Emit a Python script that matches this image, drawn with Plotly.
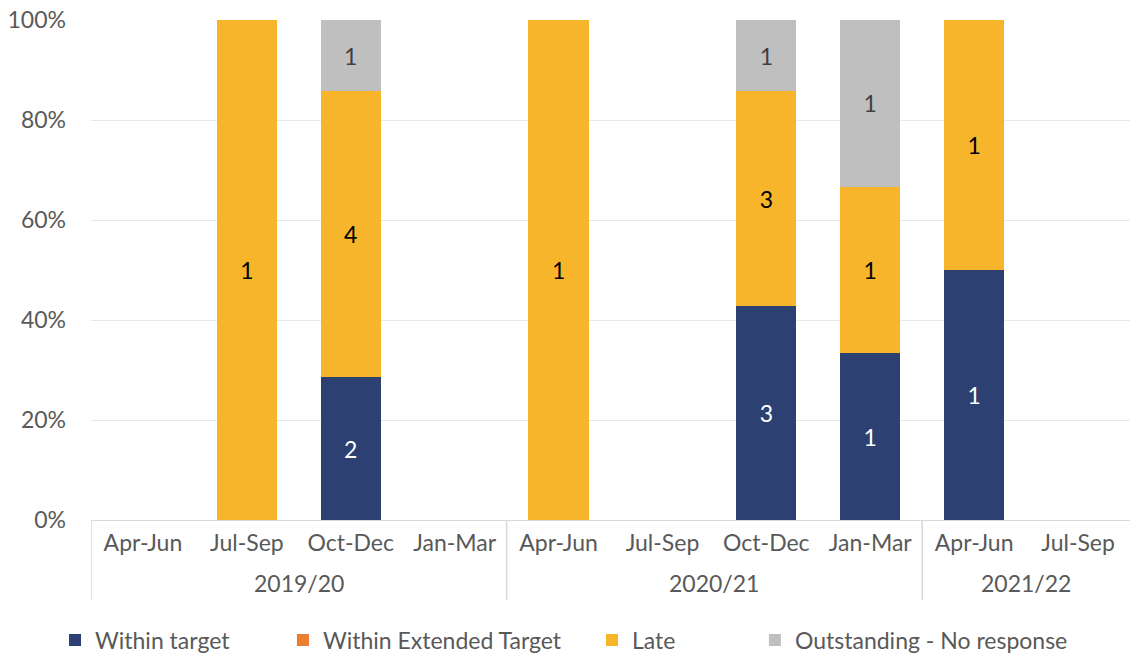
import plotly.graph_objects as go

years = ["2019/20"] * 4 + ["2020/21"] * 4 + ["2021/22"] * 2
quarters = ["Apr-Jun", "Jul-Sep", "Oct-Dec", "Jan-Mar",
            "Apr-Jun", "Jul-Sep", "Oct-Dec", "Jan-Mar",
            "Apr-Jun", "Jul-Sep"]

within_target = [0, 0, 2, 0, 0, 0, 3, 1, 1, 0]
within_extended = [0, 0, 0, 0, 0, 0, 0, 0, 0, 0]
late = [0, 1, 4, 0, 1, 0, 3, 1, 1, 0]
outstanding = [0, 0, 1, 0, 0, 0, 1, 1, 0, 0]

series = [
    ("Within target", within_target, "#2C4172", "white"),
    ("Within Extended Target", within_extended, "#ED7D31", "white"),
    ("Late", late, "#F7B52B", "black"),
    ("Outstanding - No response", outstanding, "#BFBFBF", "#404040"),
]

FONT = "Lato"
GREY = "#595959"
LINE = "#D9D9D9"
W, H = 1130, 654
xpos = list(range(len(quarters)))

# legend x positions (container fraction) for each entry
legend_x = [0.0487, 0.2504, 0.5239, 0.6681]
legend_ids = ["legend", "legend2", "legend3", "legend4"]

fig = go.Figure()
for (name, vals, color, tcolor), lid in zip(series, legend_ids):
    fig.add_trace(go.Bar(
        name=name,
        x=xpos,
        y=vals,
        marker=dict(color=color, line=dict(width=0)),
        text=[str(v) if v else "" for v in vals],
        textposition="inside",
        insidetextanchor="middle",
        textangle=0,
        textfont=dict(color=tcolor, size=23, family=FONT),
        hoverinfo="skip",
        legend=lid,
    ))

legend_common = dict(
    orientation="h",
    xref="container", yref="container",
    y=1 - 640 / H, yanchor="middle",
    xanchor="left",
    font=dict(size=23, color=GREY, family=FONT),
    itemwidth=30,
    bgcolor="rgba(0,0,0,0)",
)
layout_legends = {}
for lid, lx in zip(legend_ids, legend_x):
    layout_legends[lid] = dict(legend_common, x=lx)

fig.update_layout(
    barmode="stack",
    barnorm="percent",
    bargap=0.42,
    width=W,
    height=H,
    margin=dict(l=91, r=0, t=20, b=134, autoexpand=False),
    plot_bgcolor="white",
    paper_bgcolor="white",
    font=dict(family=FONT, size=23, color=GREY),
    uniformtext=dict(minsize=20, mode="show"),
    showlegend=True,
    hovermode=False,
    **layout_legends,
)

ytick = [0, 20, 40, 60, 80, 100]
fig.update_yaxes(
    range=[0, 100],
    tickvals=ytick,
    ticktext=[f"{v}%" for v in ytick],
    showgrid=True,
    gridcolor="#E8E8E8",
    gridwidth=1,
    zeroline=False,
    showline=False,
    ticks="",
    ticklabelstandoff=24,
    ticklabeloverflow="allow",
    automargin=False,
    tickfont=dict(size=23, color=GREY),
)
fig.update_xaxes(
    range=[-0.5, len(quarters) - 0.5],
    tickvals=xpos,
    ticktext=quarters,
    showline=True,
    linecolor=LINE,
    linewidth=1,
    showgrid=False,
    zeroline=False,
    ticks="",
    ticklabelstandoff=2,
    ticklabeloverflow="allow",
    automargin=False,
    tickfont=dict(size=23, color=GREY),
)

# group dividers and year labels
groups = []
for i, yr in enumerate(years):
    if not groups or groups[-1][0] != yr:
        groups.append([yr, i, i])
    else:
        groups[-1][2] = i
for yr, start, end in groups:
    fig.add_shape(type="line", xref="x", yref="paper",
                  x0=start - 0.5, x1=start - 0.5, y0=0, y1=-0.16,
                  line=dict(color=LINE, width=1.5))
    fig.add_annotation(x=(start + end) / 2, xref="x", y=-0.126, yref="paper",
                       text=yr, showarrow=False, yanchor="middle",
                       font=dict(size=23, color=GREY, family=FONT))

fig.write_html("out.html", config={"displayModeBar": False},
               post_script="document.body.style.margin='0';")
